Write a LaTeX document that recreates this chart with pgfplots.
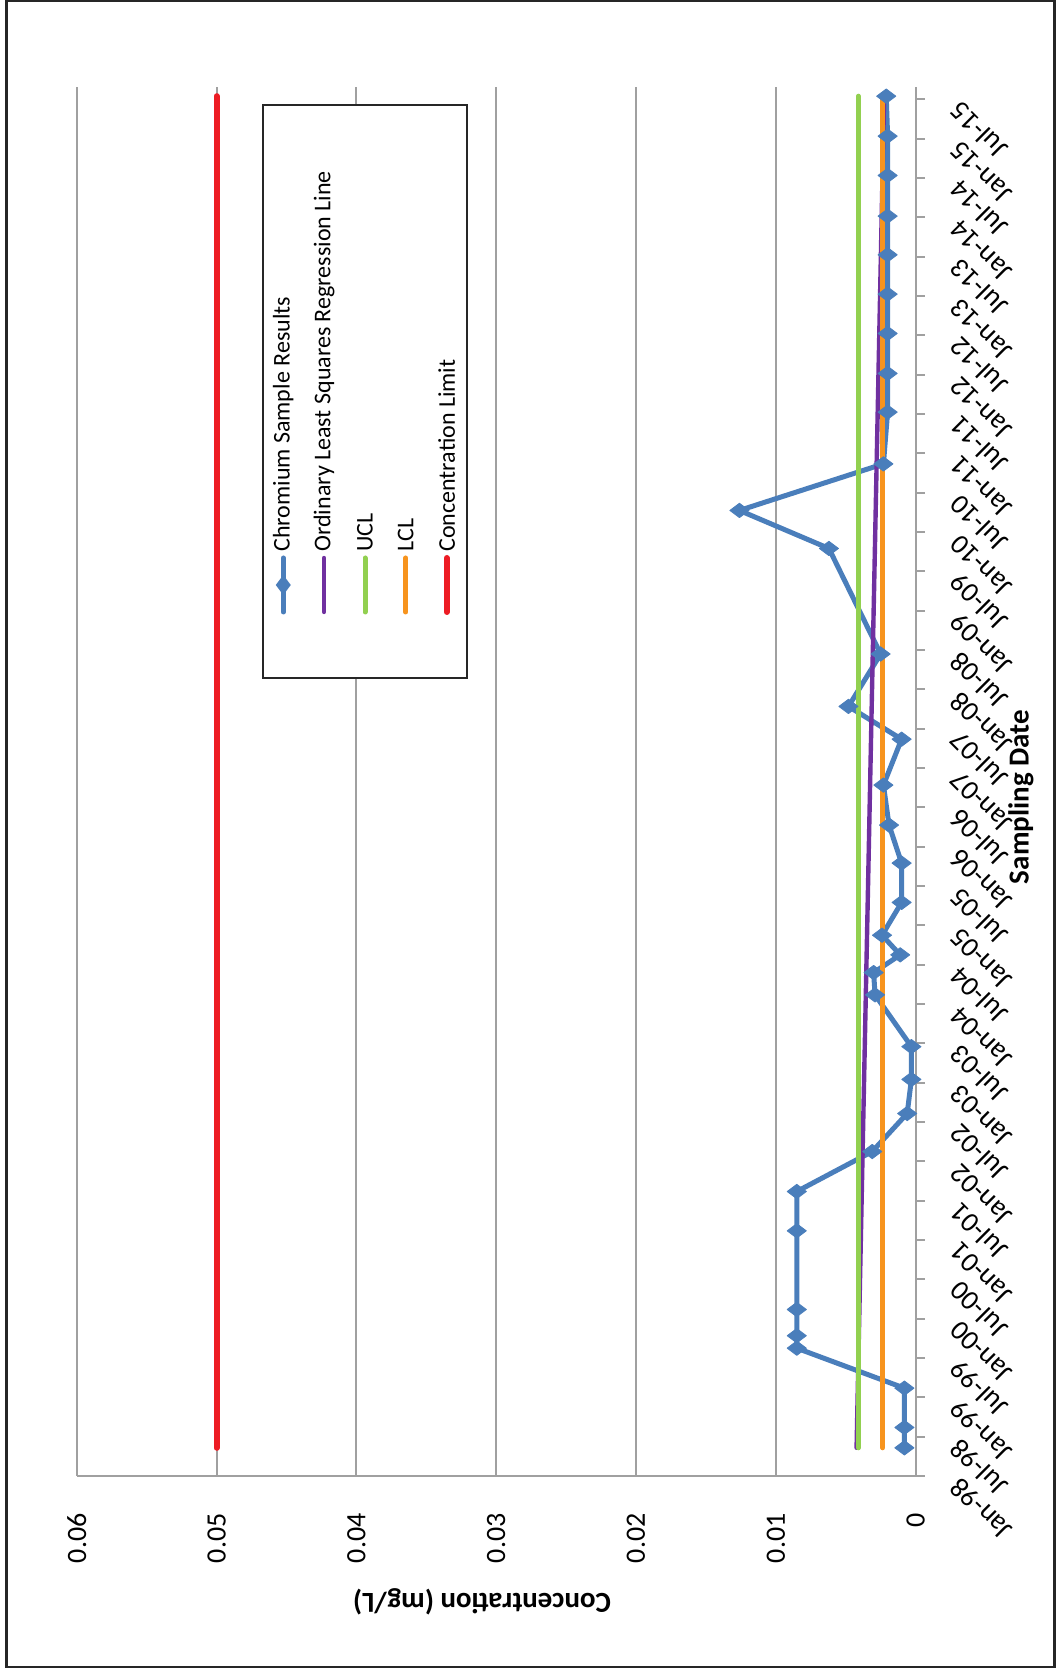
\documentclass[border=0pt]{standalone}
\usepackage{pgfplots}
\pgfplotsset{compat=1.18}
\usepackage{pgfplotstable}
\usepackage{fontspec}
\setmainfont{Carlito}
\definecolor{cblue}{HTML}{4A7EBB}
\definecolor{cpurple}{HTML}{7030A0}
\definecolor{cgreen}{HTML}{92D050}
\definecolor{corange}{HTML}{F7941E}
\definecolor{cred}{HTML}{ED1C24}
\definecolor{cgrid}{HTML}{A0A0A0}
\pgfplotstableread{
conc month
0.0008 4.3
0.0008 7.4
0.0008 13.4
0.0085 19.5
0.0085 21.4
0.0085 25.4
0.0085 37.4
0.0085 43.4
0.0031 49.5
0.0006 55.3
0.0003 60.5
0.0003 65.5
0.0029 73.4
0.0030 76.8
0.0011 79.5
0.0024 82.5
0.0010 87.5
0.0010 93.5
0.0019 99.3
0.0023 105.4
0.0010 112.4
0.0048 117.4
0.0025 125.4
0.0062 141.5
0.0126 147.3
0.0023 154.4
0.0020 162.3
0.0020 168.2
0.0020 174.3
0.0020 180.3
0.0020 186.3
0.0020 192.2
0.0020 198.4
0.0020 204.4
0.0021 210.5
}\chromium
\begin{document}
\begin{tikzpicture}
\path[use as bounding box] (0pt,0pt) rectangle (528pt,835.5pt);
\draw[line width=1.35pt, black!85] (3.3pt,2pt) rectangle (527.4pt,835pt);
\begin{axis}[
  at={(38.4pt,97.5pt)}, anchor=south west,
  scale only axis, width=419.4pt, height=694.5pt,
  clip=false,
  x dir=reverse,
  xmin=0, xmax=0.06, ymin=0, ymax=211.9,
  axis x line*=bottom, axis y line*=right,
  axis line style={cgrid, line width=1pt, -},
  scaled x ticks=false,
  xtick={0,0.01,0.02,0.03,0.04,0.05,0.06},
  xticklabels={0,0.01,0.02,0.03,0.04,0.05,0.06},
  xmajorgrids,
  major grid style={cgrid, line width=1pt},
  major x tick style={draw=none},
  xticklabel style={yshift=-14pt, rotate=90, anchor=east, inner sep=0pt, font=\fontsize{14}{16}\selectfont},
  ytick={0,6,...,210},
  yticklabels={Jan-98,Jul-98,Jan-99,Jul-99,Jan-00,Jul-00,Jan-01,Jul-01,Jan-02,Jul-02,Jan-03,Jul-03,Jan-04,Jul-04,Jan-05,Jul-05,Jan-06,Jul-06,Jan-07,Jul-07,Jan-08,Jul-08,Jan-09,Jul-09,Jan-10,Jul-10,Jan-11,Jul-11,Jan-12,Jul-12,Jan-13,Jul-13,Jan-14,Jul-14,Jan-15,Jul-15},
  major y tick style={cgrid, line width=1pt},
  tick align=outside, major tick length=4.5pt,
  yticklabel style={xshift=15pt, yshift=-3.5pt, rotate=135, anchor=east, inner sep=0pt, font=\fontsize{14}{16}\selectfont},
  xlabel={Concentration (mg/L)},
  xlabel style={at={(rel axis cs:0.4831,-0.0907)}, anchor=center, rotate=180, font=\bfseries\fontsize{14.5}{17}\selectfont},
  ylabel={Sampling Date},
  ylabel style={at={(rel axis cs:1.1257,0.4888)}, anchor=center, font=\bfseries\fontsize{14.5}{17}\selectfont},
]
\addplot[cblue, line width=2.5pt, line join=round, mark=diamond*, mark size=4.8pt, mark options={rotate=90, fill=cblue, draw=cblue, line width=0.4pt, solid}] table[x=conc, y=month] {\chromium};
\addplot[cpurple, line width=2.2pt, line cap=round] coordinates {(0.00422,4.3) (0.00225,210.5)};
\addplot[cgreen, line width=2.5pt, line cap=round] coordinates {(0.0041,4.3) (0.0041,210.5)};
\addplot[corange, line width=2.5pt, line cap=round] coordinates {(0.00235,4.3) (0.00235,210.5)};
\addplot[cred, line width=3pt, line cap=round] coordinates {(0.05,4.3) (0.05,210.5)};
\end{axis}
% legend (rotated, as in the reference)
\draw[line width=1pt, black!85, fill=white] (131.5pt,496.5pt) rectangle (233.5pt,783pt);
\draw[cblue, line width=2.5pt, line cap=round] (141.65pt,529.5pt) -- (141.65pt,556.5pt);
\fill[cblue] (141.65pt,548pt) -- (145.4pt,543pt) -- (141.65pt,538pt) -- (137.9pt,543pt) -- cycle;
\draw[cpurple, line width=2.2pt, line cap=round] (162pt,529.5pt) -- (162pt,556.5pt);
\draw[cgreen, line width=2.5pt, line cap=round] (182.5pt,529.5pt) -- (182.5pt,556.5pt);
\draw[corange, line width=2.5pt, line cap=round] (202.85pt,529.5pt) -- (202.85pt,556.5pt);
\draw[cred, line width=3pt, line cap=round] (223.35pt,529.5pt) -- (223.35pt,556.5pt);
\begin{scope}[every node/.style={rotate=90, anchor=west, inner sep=0pt, font=\fontsize{12}{14}\selectfont}]
\node at (141.65pt,559.5pt) {Chromium Sample Results};
\node at (162pt,559.5pt) {Ordinary Least Squares Regression Line};
\node at (182.5pt,559.5pt) {UCL};
\node at (202.85pt,559.5pt) {LCL};
\node at (223.35pt,559.5pt) {Concentration Limit};
\end{scope}
\end{tikzpicture}
\end{document}
